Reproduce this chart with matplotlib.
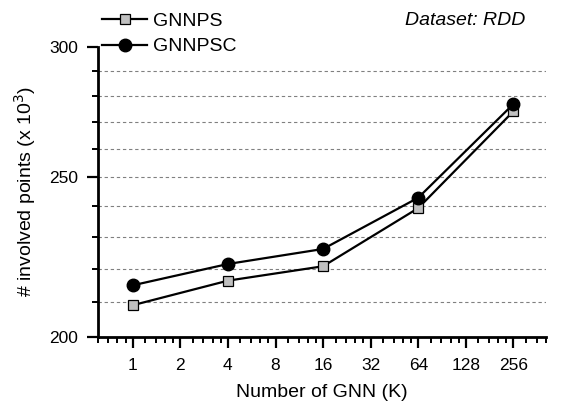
import numpy as np
import matplotlib
matplotlib.use("Agg")
import matplotlib.pyplot as plt
from matplotlib.ticker import FixedLocator, FixedFormatter, NullFormatter

plt.rcParams["font.family"] = ["Liberation Sans", "DejaVu Sans"]

# data (y in thousands)
k_values = [1, 4, 16, 64, 256]
gnnps = [209, 216.3, 220.7, 239.4, 274.1]
gnnpsc = [214.9, 221.4, 226.1, 242.9, 276.9]
x_ticks = [1, 2, 4, 8, 16, 32, 64, 128, 256]
y_ticks = [200, 250, 300]
y_grid = [210, 220, 230, 240, 250, 260, 270, 280, 290]

fig = plt.figure(figsize=(5.62, 4.04), dpi=100)
ax = fig.add_axes([0.1738, 0.1666, 0.971 - 0.1738, 0.8844 - 0.1666])

for g in y_grid:
    ax.axhline(g, color="#808080", lw=0.8, ls=(0, (3, 2.5)), zorder=1)

ax.plot(k_values, gnnps, color="black", lw=1.6, marker="s", ms=7.5,
        mfc="#c0c0c0", mec="black", mew=0.9, label="GNNPS", zorder=3)
ax.plot(k_values, gnnpsc, color="black", lw=1.6, marker="o", ms=9,
        mfc="black", mec="black", label="GNNPSC", zorder=3)

ax.set_xscale("log", base=2)
ax.set_yscale("log")
ax.set_xlim(0.6, 256 * 1.6)
ax.set_ylim(200, 300)

ax.xaxis.set_major_locator(FixedLocator(x_ticks))
ax.xaxis.set_major_formatter(FixedFormatter([str(t) for t in x_ticks]))
minor_x = [p * f for p in [0.5] + x_ticks for f in (1.2, 1.4, 1.6, 1.8)]
ax.xaxis.set_minor_locator(FixedLocator(minor_x))
ax.xaxis.set_minor_formatter(NullFormatter())

ax.yaxis.set_major_locator(FixedLocator(y_ticks))
ax.yaxis.set_major_formatter(FixedFormatter([str(t) for t in y_ticks]))
ax.yaxis.set_minor_locator(FixedLocator([g for g in y_grid if g != 250]))
ax.yaxis.set_minor_formatter(NullFormatter())

for s in ["top", "right"]:
    ax.spines[s].set_visible(False)
for s in ["left", "bottom"]:
    ax.spines[s].set_linewidth(2.0)

ax.tick_params(which="major", direction="out", length=8, width=1.6,
               labelsize=12.5, pad=6)
ax.tick_params(axis="x", which="major", pad=7)
ax.tick_params(which="minor", direction="out", length=4.5, width=1.4)

ax.set_xlabel("Number of GNN (K)", fontsize=14, labelpad=8)
ax.set_ylabel(r"# involved points (x 10$^3$)", fontsize=14, labelpad=8)

fig.legend(loc="upper left", bbox_to_anchor=(0.175, 0.98), frameon=False,
           fontsize=14, handlelength=2.3, handletextpad=0.3,
           labelspacing=0.42, borderpad=0.2, borderaxespad=0)

fig.text(0.935, 0.95, "Dataset: RDD", fontsize=14, style="italic",
         ha="right", va="center")

fig.savefig("out.png", dpi=100)
